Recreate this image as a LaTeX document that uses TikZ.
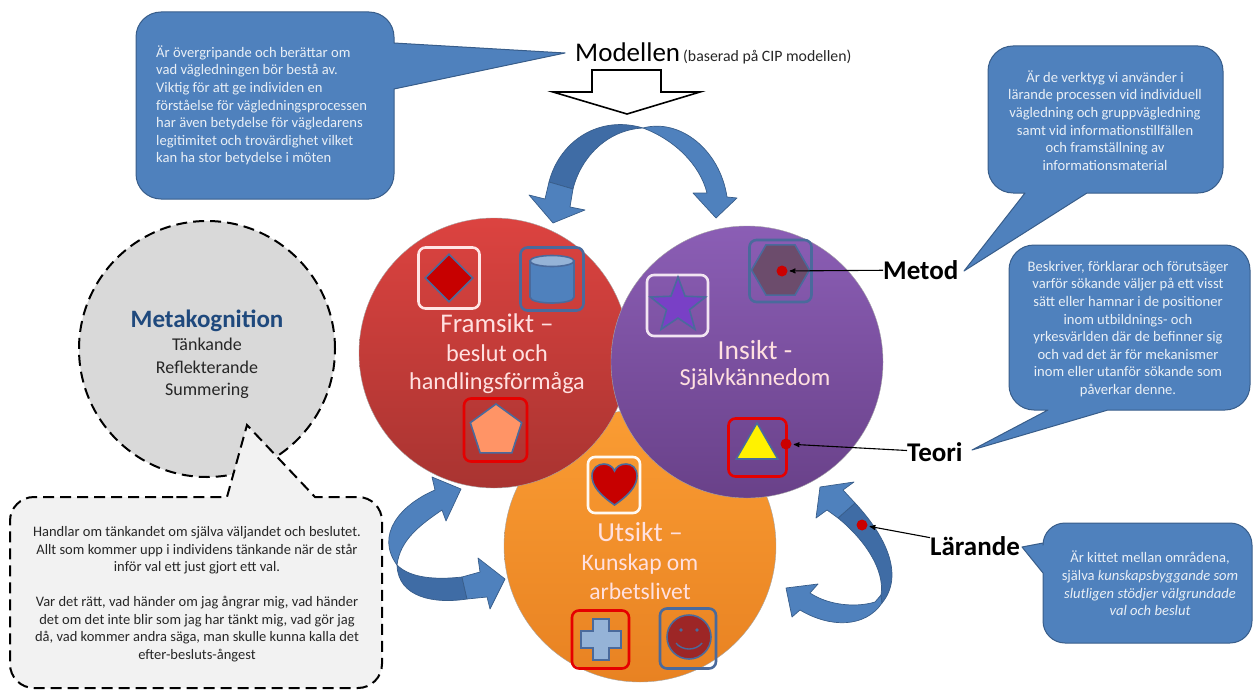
\documentclass[tikz,border=0pt]{standalone}
\usepackage{fontspec}
\setmainfont{Carlito}
\usepackage{xcolor}
\usetikzlibrary{arrows,positioning,shapes.geometric}
\definecolor{bubbleblue}{HTML}{4F81BD}
\definecolor{bubbleedge}{HTML}{385D8A}
\definecolor{banddark}{HTML}{3F6CA5}
\definecolor{iconblue}{HTML}{4A6A9C}
\definecolor{softwhite}{HTML}{E9EFF6}
\definecolor{redtop}{HTML}{DC4340}
\definecolor{redbottom}{HTML}{A93431}
\definecolor{purpletop}{HTML}{8B5EB5}
\definecolor{purplebottom}{HTML}{694189}
\definecolor{orangetop}{HTML}{FA9C33}
\definecolor{orangebottom}{HTML}{E88222}
\definecolor{metablue}{HTML}{1F497D}
\newcommand{\px}[1]{\fontsize{#1}{#1}\selectfont}
\tikzset{
  bubble/.style={fill=bubbleblue,draw=bubbleedge,line width=1pt,line join=round},
  bubbletext/.style={text=softwhite,align=center,inner sep=0pt,font=\fontsize{14.6}{17.6}\selectfont},
  dashbubble/.style={draw=black,line width=2pt,dash pattern=on 11pt off 6pt},
  area/.style={circle,minimum size=#1,inner sep=0pt,draw=black!35,line width=0.4pt},
  arealabel/.style={text=white!88!red,align=center,inner sep=0pt},
  iconbox/.style={rectangle,rounded corners=7pt,line width=2.6pt,inner sep=0pt},
  iconshape/.style={draw=iconblue,line width=1.6pt,inner sep=0pt},
  band/.style={fill=banddark,draw=bubbleedge,line width=0.7pt,line join=round},
  head/.style={fill=bubbleblue,draw=bubbleedge,line width=0.7pt,line join=round},
  marker/.style={circle,fill=red!80!black,minimum size=11pt,inner sep=0pt},
  term/.style={font=\px{27}\bfseries,inner sep=0pt},
  pointer/.style={-stealth',line width=1.1pt,shorten >=2pt}
}
\begin{document}
\begin{tikzpicture}[x=1pt,y=-1pt]
  \useasboundingbox (0,0) rectangle (1256,690);

  % top callout and heading
  \draw[bubble] (394,43) [rounded corners=25pt] -- (394,12) -- (136,12) -- (136,199) -- (394,199) [sharp corners] -- (394,89) -- (565,53) -- cycle;
  \node[bubbletext,align=left,anchor=west] (model text) at (156,105.5) {Är övergripande och berättar om\\vad vägledningen bör bestå av.\\Viktig för att ge individen en\\förståelse för vägledningsprocessen\\har även betydelse för vägledarens\\legitimitet och trovärdighet vilket\\kan ha stor betydelse i möten};
  \node[anchor=base west,inner sep=0pt,font=\px{27}] (model) at (575,62) {Modellen};
  \node[anchor=base west,inner sep=0pt,font=\px{15.8},text=black!85] (model note) at (683,62) {(baserad på CIP modellen)};
  \draw[fill=white,line width=1.6pt,line join=miter] (592,70) -- (661,70) -- (661,92) -- (700,92) -- (627,114) -- (553,92) -- (592,92) -- cycle;

  % big curved arrows at the top
  \draw[head] (643,128) .. controls (680,118) and (720,150) .. (727,197) -- (737,198) -- (716,218) -- (693,193) -- (707,193) .. controls (700,165) and (675,140) .. (643,128) -- cycle;
  \draw[band] (643,128) .. controls (600,115) and (560,140) .. (549,182) -- (573,189) .. controls (580,160) and (605,130) .. (643,128) -- cycle;
  \draw[head] (549,182) -- (573,189) -- (570,207) -- (585,210) -- (553,223) -- (529,195) -- (545,199) -- cycle;

  % right side callouts
  \draw[bubble] (1223,120) [rounded corners=25pt] -- (1223,46) -- (988,46) -- (988,193) [sharp corners] -- (1025,193) -- (964,271) -- (1087,193) [rounded corners=25pt] -- (1223,193) -- cycle;
  \node[bubbletext] (metod text) at (1105,120.5) {Är de verktyg vi använder i\\lärande processen vid individuell\\vägledning och gruppvägledning\\samt vid informationstillfällen\\och framställning av\\informationsmaterial};
  \draw[bubble] (1250,330) [rounded corners=25pt] -- (1250,245) -- (1009,245) -- (1009,410) [sharp corners] -- (1048,410) -- (972,450) -- (1108,410) [rounded corners=25pt] -- (1250,410) -- cycle;
  \node[bubbletext] (teori text) at (1128,329) {Beskriver, förklarar och förutsäger\\varför sökande väljer på ett visst\\sätt eller hamnar i de positioner\\inom utbildnings- och\\yrkesvärlden där de befinner sig\\och vad det är för mekanismer\\inom eller utanför sökande som\\påverkar denne.};
  \draw[bubble] (1150,643) [rounded corners=22pt] -- (1252,643) -- (1252,523) -- (1043,523) [sharp corners] -- (1043,543) -- (1022,547) -- (1043,573) [rounded corners=22pt] -- (1043,643) -- cycle;
  \node[bubbletext] (larande text) at (1150,583.5) {Är kittet mellan områdena,\\själva \textit{kunskapsbyggande som}\\\textit{slutligen stödjer välgrundade}\\\textit{val och beslut}};

  % metakognition
  \node[circle,minimum size=256pt,inner sep=0pt,fill=black!15,dashbubble] (meta) at (207,349) {};
  \node[font=\px{25}\bfseries,text=metablue,inner sep=0pt] (meta title) at (207,321) {Metakognition};
  \node[font=\px{18},align=center,inner sep=0pt,text=black!85] (meta list) at (207,368.5) {Tänkande\\[4.5pt]Reflekterande\\[4.5pt]Summering};
  \draw[fill=black!5,dashbubble] (197,497) [rounded corners=24pt] -- (10,497) -- (10,688) -- (382,688) -- (382,497) [sharp corners] -- (315,497) -- (247,425) -- (227,497) [rounded corners=24pt] -- cycle;
  \node[align=center,inner sep=0pt,text=black!85,font=\fontsize{14.5}{17.5}\selectfont] (meta text) at (197,594) {Handlar om tänkandet om själva väljandet och beslutet.\\Allt som kommer upp i individens tänkande när de står\\inför val ett just gjort ett val.\\[17.5pt]Var det rätt, vad händer om jag ångrar mig, vad händer\\det om det inte blir som jag har tänkt mig, vad gör jag\\då, vad kommer andra säga, man skulle kunna kalla det\\efter-besluts-ångest};

  % curved arrows left of utsikt
  \draw[head] (435,490) .. controls (400,505) and (375,535) .. (397,565) .. controls (400,540) and (420,525) .. (442,510) -- (446,521) -- (461,489) -- (432,477) -- cycle;
  \draw[band] (397,565) .. controls (410,578) and (435,580) .. (462,577) -- (467,599) .. controls (435,604) and (398,598) .. (397,565) -- cycle;
  \draw[head] (462,577) -- (480,572) -- (478,558) -- (505,579) -- (490,609) -- (487,597) -- (467,599) -- cycle;

  % curved arrow right of utsikt
  \draw[head] (881,595) -- (875,602) .. controls (855,608) and (828,605) .. (810,593) -- (818,584) -- (786,588) -- (792,617) -- (800,610) .. controls (830,628) and (865,628) .. (882,603) -- cycle;
  \draw[band] (838,518) -- (855,503) .. controls (885,535) and (905,575) .. (882,603) -- (881,595) .. controls (885,570) and (865,540) .. (838,518) -- cycle;
  \draw[head] (838,518) -- (827,510) -- (816,518) -- (820,487) -- (854,482) -- (843,490) -- (855,503) -- cycle;

  % the three areas
  \node[area=272pt,top color=orangetop,bottom color=orangebottom] (utsikt) at (640,546) {};
  \node[area=270pt,top color=redtop,bottom color=redbottom] (framsikt) at (494,353) {};
  \node[area=272pt,top color=purpletop,bottom color=purplebottom] (insikt) at (747,362) {};

  \node[arealabel,font=\px{27}] (framsikt title) at (497,323) {Framsikt –};
  \node[arealabel,font=\px{24.2}] (framsikt sub) at (497,369) {beslut och\\[4pt]handlingsförmåga};
  \node[arealabel,font=\px{27.5}] (insikt title) at (755,350) {Insikt -};
  \node[arealabel,font=\px{24.4}] (insikt sub) at (755,379) {Självkännedom};
  \node[arealabel,font=\px{27.5}] (utsikt title) at (640,532) {Utsikt –};
  \node[arealabel,font=\px{23.6}] (utsikt sub) at (640,577) {Kunskap om\\[5.5pt]arbetslivet};

  % icons in framsikt
  \node[iconbox,draw=white!90!red,minimum size=61pt] (box diamond) at (449,278) {};
  \node[diamond,iconshape,fill=red!78!black,minimum size=48pt] (icon diamond) at (449,278) {};
  \node[iconbox,draw=iconblue,minimum size=63pt] (box barrel) at (552,279) {};
  \draw[iconshape,fill=bubbleblue] (530,261) -- (530,297) .. controls (530,305) and (574,305) .. (574,297) -- (574,261) -- cycle;
  \draw[iconshape,fill=bubbleblue!60!white] (552,261) ellipse (22pt and 5.5pt);
  \node[iconbox,draw=red!90!black,minimum size=63pt] (box pentagon) at (495.5,430) {};
  \node[regular polygon,regular polygon sides=5,iconshape,fill=orange!60!red!60!white,minimum size=54pt] (icon pentagon) at (496,431) {};

  % icons in insikt
  \node[iconbox,draw=white!90!violet,minimum size=61pt] (box star) at (677.5,305.5) {};
  \node[star,star points=5,star point ratio=2.4,iconshape,fill=violet!60!blue!75!white,minimum size=58pt] (icon star) at (678,306) {};
  \node[iconbox,draw=iconblue,minimum size=62pt] (box hexagon) at (780.5,271) {};
  \node[regular polygon,regular polygon sides=6,iconshape,fill=violet!35!black!70!white,minimum size=58pt] (icon hexagon) at (780.5,270) {};
  \node[iconbox,draw=red!90!black,minimum size=58pt] (box triangle) at (757.5,447.5) {};
  \node[isosceles triangle,isosceles triangle apex angle=60,shape border rotate=90,iconshape,fill=yellow,minimum size=36pt] (icon triangle) at (757,447) {};

  % icons in utsikt
  \node[iconbox,draw=white!95!orange,minimum width=52pt,minimum height=56pt] (box heart) at (614,485) {};
  \draw[iconshape,fill=red!78!black] (614.5,505) .. controls (600,495) and (592,486) .. (592,476) .. controls (592,468) and (598,464) .. (604,464) .. controls (609,464) and (613,467) .. (614.5,471) .. controls (616,467) and (620,464) .. (626,464) .. controls (632,464) and (637,468) .. (637,476) .. controls (637,486) and (629,495) .. (614.5,505) -- cycle;
  \node[iconbox,draw=red!90!black,minimum width=57pt,minimum height=58pt] (box plus) at (600.5,639.5) {};
  \draw[iconshape,fill=bubbleblue!60!white] (593,619) -- (609,619) -- (609,631) -- (621,631) -- (621,648) -- (609,648) -- (609,660) -- (593,660) -- (593,648) -- (581,648) -- (581,631) -- (593,631) -- cycle;
  \node[iconbox,draw=iconblue,minimum width=56pt,minimum height=60pt] (box smiley) at (688,638.5) {};
  \node[circle,iconshape,fill=red!55!black!85!white,minimum size=44pt] (icon smiley) at (689,637) {};
  \fill[iconblue] (681,630) circle (1.8pt) (697,630) circle (1.8pt);
  \draw[iconblue,line width=1.4pt] (676,643) .. controls (682,651) and (696,651) .. (702,643);

  % terms and their pointers
  \node[marker] (metod dot) at (782,271) {};
  \node[marker] (teori dot) at (786,444) {};
  \node[marker] (larande dot) at (862,525) {};
  \node[term,anchor=west] (metod) at (883,270) {Metod};
  \node[term,anchor=west] (teori) at (907,452) {Teori};
  \node[term,anchor=west] (larande) at (930,546) {Lärande};
  \draw[pointer] (metod) -- (metod dot);
  \draw[pointer] (teori) -- (teori dot);
  \draw[pointer] (larande) -- (larande dot);
\end{tikzpicture}
\end{document}
